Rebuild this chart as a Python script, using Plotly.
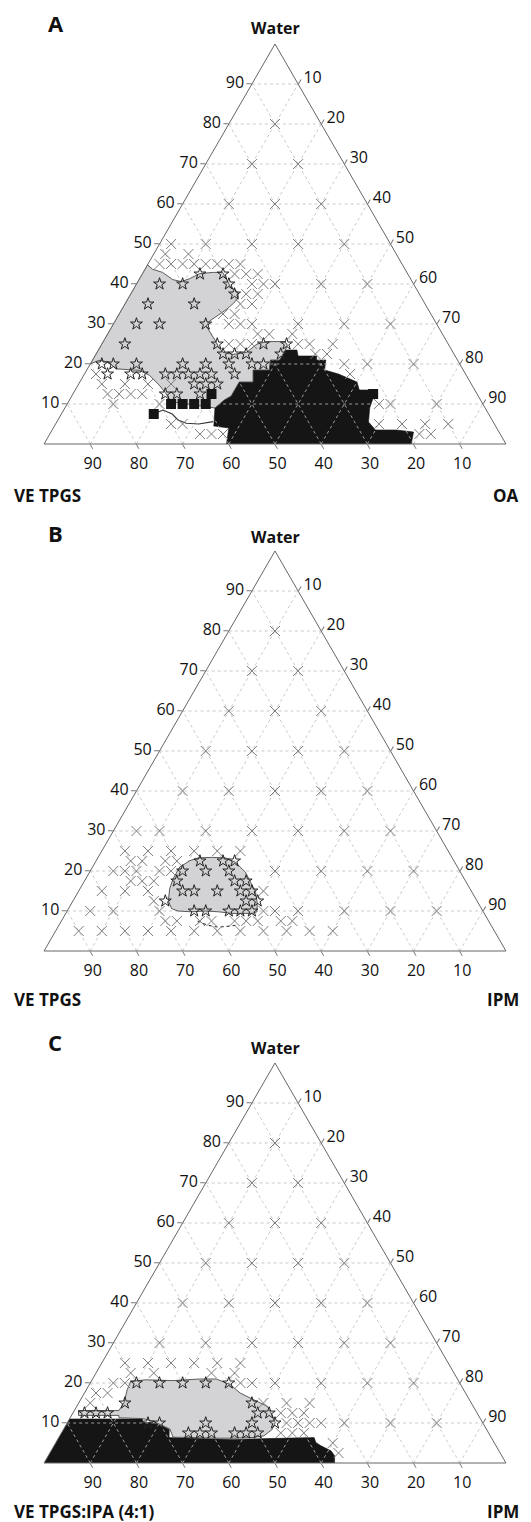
import plotly.graph_objects as go

TICKS = [10, 20, 30, 40, 50, 60, 70, 80, 90]

# Every point is (water %, oil %); surfactant % = 100 - water - oil
# ---------------- Panel A : Water / VE TPGS / OA ----------------
A_cross = [(80, 10), (70, 10), (70, 20), (60, 10), (60, 20), (60, 30),
           (50, 2.5), (50, 10), (50, 20), (50, 30), (50, 40),
           (47.5, 2.5), (47.5, 7.5), (45, 2.5), (45, 5), (45, 7.5), (45, 10), (45, 12.5),
           (45, 15), (45, 17.5), (45, 20), (42.5, 20), (42.5, 22.5), (42.5, 25),
           (40, 25), (40, 27.5), (40, 30), (40, 40), (40, 50),
           (37.5, 25), (37.5, 27.5), (35, 25), (35, 27.5), (32.5, 22.5), (32.5, 25),
           (30, 25), (30, 27.5), (30, 30), (30, 40), (30, 50), (30, 60),
           (27.5, 32.5), (27.5, 35), (27.5, 40), (25, 27.5), (25, 30), (25, 32.5),
           (25, 42.5), (25, 45), (25, 50), (22.5, 47.5), (22.5, 50),
           (20, 55), (20, 60), (20, 70), (17.5, 57.5),
           (10, 67.5), (10, 70), (10, 80), (5, 70), (5, 75), (5, 80), (5, 85),
           (2.5, 80), (2.5, 82.5),
           (17.5, 2.5), (15, 5), (15, 10), (15, 15), (15, 20), (12.5, 7.5), (12.5, 10),
           (12.5, 12.5), (12.5, 15), (10, 10), (10, 20), (5, 25), (5, 27.5),
           (2.5, 32.5), (2.5, 35), (2.5, 37.5)]
A_star = [(42.5, 12.5), (42.5, 17.5), (40, 5), (40, 10), (40, 20), (37.5, 22.5),
          (35, 5), (35, 15), (30, 5), (30, 10), (30, 20), (25, 5), (25, 25),
          (22.5, 27.5), (22.5, 30), (22.5, 32.5), (25, 35), (25, 40), (22.5, 40),
          (20, 2.5), (20, 5), (20, 10), (20, 20), (20, 25), (20, 30), (20, 35), (20, 37.5),
          (17.5, 5), (17.5, 10), (17.5, 12.5), (17.5, 17.5), (17.5, 20), (17.5, 22.5),
          (17.5, 25), (17.5, 27.5), (17.5, 32.5), (15, 25), (15, 27.5), (15, 30),
          (12.5, 20), (12.5, 22.5), (12.5, 27.5)]
A_square = [(7.5, 20), (10, 22.5), (10, 25), (10, 27.5), (10, 30), (12.5, 30), (12.5, 65)]
A_gray = [(44.8, 0), (43.7, 1.6), (42.9, 4.2), (41.1, 7.3), (40.6, 9.4), (41.3, 10.8),
          (42.6, 12.4), (42.9, 15.2), (42.9, 17.2), (41.3, 18.8), (39.4, 20.6), (38, 22.9),
          (36.6, 23.8), (35.1, 23.4), (33.7, 22.7), (32.2, 21.6), (30.8, 20.5), (29.5, 20.4),
          (27.7, 22.2), (26.1, 23.9), (24.4, 25.5), (22.9, 27.3), (22.4, 29.8), (22.9, 32.4),
          (25, 33.6), (25.6, 35.5), (25.6, 39.3), (24.75, 40.3), (23.5, 40.5), (21, 40.5),
          (21, 38.5), (18.5, 39.5), (18.5, 36), (15.5, 37.5), (15.5, 34.5), (12, 34.5),
          (11, 33.5), (10, 33), (9, 32.5), (10.6, 22.2), (12.6, 20.1), (14.7, 17.6),
          (17.2, 14.2), (18.4, 11.4), (18.8, 6.1), (20.5, 3.8), (20.9, 1.4), (20, 0)]
A_black = [(0, 39.5), (4, 38), (4.5, 34.5), (9, 32.5), (10, 33), (11, 33.5), (12, 34.5),
           (15.5, 34.5), (15.5, 37.5), (18.5, 36), (18.5, 39.5), (21, 38.5), (21, 40.5),
           (23.5, 40.5), (23.5, 43), (22, 44), (22, 48), (21, 48.5), (21, 50.5), (18.5, 51.5),
           (17.5, 55), (16.5, 57.5), (15.5, 60), (13.5, 61.5), (13.5, 64.5), (11.5, 65.5),
           (9, 66), (5.5, 67.5), (3.5, 70), (3.5, 74.5), (3, 78.5), (0, 79.5)]
A_line = [(7.5, 20), (8.5, 21.5), (7.5, 24), (6, 26), (5.2, 28.2), (5, 31), (5.6, 33.8)]

# ---------------- Panel B : Water / VE TPGS / IPM ----------------
B_cross = [(80, 10), (70, 10), (70, 20), (60, 10), (60, 20), (60, 30),
           (50, 10), (50, 20), (50, 30), (50, 40), (40, 10), (40, 20), (40, 30), (40, 40), (40, 50),
           (30, 5), (30, 10), (30, 20), (30, 30), (30, 40), (30, 50), (30, 60),
           (25, 5), (25, 10), (25, 15), (25, 20), (25, 25), (25, 30),
           (22.5, 7.5), (22.5, 10), (22.5, 15), (22.5, 17.5),
           (20, 5), (20, 7.5), (20, 10), (20, 15), (20, 17.5), (20, 40), (20, 50), (20, 60), (20, 70),
           (17.5, 10), (17.5, 12.5), (17.5, 15), (15, 5), (15, 10), (15, 15), (15, 40),
           (12.5, 17.5), (10, 5), (10, 10), (10, 20), (10, 42.5), (10, 45), (10, 50), (10, 60),
           (10, 70), (10, 80),
           (7.5, 22.5), (7.5, 25), (7.5, 30), (7.5, 32.5), (7.5, 37.5), (7.5, 40), (7.5, 42.5),
           (7.5, 47.5), (7.5, 50),
           (5, 5), (5, 10), (5, 15), (5, 20), (5, 25), (5, 30), (5, 35), (5, 40), (5, 45),
           (5, 50), (5, 55), (5, 60)]
B_star = [(22.5, 22.5), (22.5, 27.5), (22.5, 30), (20, 20), (20, 25), (20, 30),
          (17.5, 20), (17.5, 32.5), (17.5, 35), (15, 22.5), (15, 25), (15, 30), (15, 35),
          (15, 37.5), (12.5, 20), (12.5, 37.5), (12.5, 40), (10, 27.5), (10, 30), (10, 35),
          (10, 37.5), (10, 40)]
B_gray = [(13.5, 20.25), (15.6, 19.4), (18.1, 18.9), (21, 18.9), (22.6, 20.3), (23.3, 21.75),
          (23.4, 24.6), (23.3, 27.6), (22.2, 30.3), (19.7, 33.75), (17.2, 36.1), (14.8, 38.4),
          (11.9, 40.2), (9.8, 41.2), (9.4, 40.35), (9.4, 36), (9.8, 32.9), (10, 29.9),
          (9.8, 27), (10, 24), (10.6, 22.3), (12.3, 20.85)]
B_line = [(7.5, 29.5), (6.5, 32), (6, 34.5), (6.2, 37), (6.5, 38.5)]

# ---------------- Panel C : Water / VE TPGS:IPA (4:1) / IPM ----------------
C_cross = [(80, 10), (70, 10), (70, 20), (60, 10), (60, 20), (60, 30),
           (50, 10), (50, 20), (50, 30), (50, 40), (40, 10), (40, 20), (40, 30), (40, 40), (40, 50),
           (30, 10), (30, 20), (30, 30), (30, 40), (30, 50), (30, 60),
           (25, 5), (25, 10), (25, 15), (25, 20), (25, 25), (25, 30),
           (22.5, 7.5), (22.5, 12.5), (22.5, 25), (22.5, 30),
           (20, 5), (20, 7.5), (20, 32.5), (20, 35), (20, 40), (20, 50), (20, 60), (20, 70),
           (17.5, 2.5), (17.5, 5), (15, 2.5), (15, 40), (15, 45), (15, 50),
           (12.5, 45), (12.5, 47.5), (12.5, 50),
           (10, 47.5), (10, 50), (10, 52.5), (10, 55), (10, 60), (10, 70), (10, 80),
           (7.5, 47.5), (7.5, 50), (7.5, 52.5), (5, 60), (2.5, 62.5)]
C_star = [(12.5, 2.5), (12.5, 5), (12.5, 7.5), (15, 10), (20, 10), (20, 15), (20, 20),
          (20, 25), (20, 30), (10, 17.5), (10, 20), (10, 30), (7.5, 27.5), (7.5, 30),
          (7.5, 32.5), (7.5, 37.5), (7.5, 40), (7.5, 42.5), (15, 37.5), (12.5, 40),
          (12.5, 42.5), (10, 40), (10, 45)]
C_gray = [(13.1, 0.9), (13.1, 9.65), (15, 9.8), (18.3, 8.85), (20.4, 8.55), (20.8, 11.6),
          (20.6, 17.6), (21, 23.2), (21, 26.8), (19.6, 30.5), (17.5, 33.7), (15.8, 37.5),
          (14.2, 41.2), (12.1, 43.3), (10.1, 45), (8.4, 45.2), (6.8, 44.2), (6.4, 42.2),
          (6.2, 38), (6.2, 33.65), (6.4, 27.6), (6.45, 24.7), (8.5, 23), (10.5, 18.2),
          (11.1, 15.8), (11.3, 10.55), (11.9, 10.25), (11.9, 1.5)]
C_black = [(0, 0), (11, 0), (11, 15.8), (10.2, 16.2), (10.1, 18.4), (9.2, 21.1), (8.4, 22.9),
           (6.35, 23.9), (6.1, 30.65), (5.9, 38), (6.1, 45.2), (6.35, 55.3), (5.1, 56.3),
           (4.3, 57.8), (3.05, 60.6), (1.8, 62), (0, 62.9)]

PANELS = [
    dict(sub="ternary", letter="A", left="VE TPGS", right="OA", cross=A_cross, star=A_star,
         square=A_square, gray=A_gray, black=A_black, line=A_line, line_dash="solid",
         ypx=(44, 444), letter_y=23, water_y=28, label_y=495),
    dict(sub="ternary2", letter="B", left="VE TPGS", right="IPM", cross=B_cross, star=B_star,
         square=[], gray=B_gray, black=[], line=B_line, line_dash="dot",
         ypx=(551, 951), letter_y=533, water_y=537, label_y=1000),
    dict(sub="ternary3", letter="C", left="VE TPGS:IPA (4:1)", right="IPM", cross=C_cross,
         star=C_star, square=[], gray=C_gray, black=C_black, line=[], line_dash="solid",
         ypx=(1063, 1463), letter_y=1042, water_y=1048, label_y=1511),
]

W, H = 531, 1522
OFF = 8          # the page body adds an 8 px margin; positions below are page pixels
X0, X1 = 44, 506


def px(x):
    return (x - OFF) / W


def py(y):
    return 1 - (y - OFF) / H


def abc(points, close=False):
    pts = list(points) + ([points[0]] if close and points else [])
    a = [p[0] for p in pts]
    c = [p[1] for p in pts]
    b = [100 - p[0] - p[1] for p in pts]
    return a, b, c


fig = go.Figure()
annotations = []
layout_ternaries = {}
FONT = "Open Sans"

for P in PANELS:
    sub = P["sub"]
    if P["black"]:
        a, b, c = abc(P["black"], close=True)
        fig.add_trace(go.Scatterternary(a=a, b=b, c=c, mode="lines", fill="toself",
                                        fillcolor="#151515", line=dict(color="#151515", width=0.6),
                                        subplot=sub, showlegend=False, hoverinfo="skip"))
    # dashed grid drawn over the black region (hidden again by the gray region)
    for t in TICKS:
        for seg in ([(t, 0), (t, 100 - t)],
                    [(0, t), (100 - t, t)],
                    [(0, 100 - t), (100 - t, 0)]):
            a, b, c = abc(seg)
            fig.add_trace(go.Scatterternary(a=a, b=b, c=c, mode="lines",
                                            line=dict(color="#bdbdbd", width=0.8, dash="3px,3px"),
                                            subplot=sub, showlegend=False, hoverinfo="skip"))
    a, b, c = abc(P["gray"], close=True)
    fig.add_trace(go.Scatterternary(a=a, b=b, c=c, mode="lines", fill="toself",
                                    fillcolor="#d3d3d5", line=dict(color="#4a4a4a", width=0.9),
                                    subplot=sub, showlegend=False, hoverinfo="skip"))
    if P["line"]:
        a, b, c = abc(P["line"])
        fig.add_trace(go.Scatterternary(a=a, b=b, c=c, mode="lines",
                                        line=dict(color="#333", width=1.1, dash=P["line_dash"]),
                                        subplot=sub, showlegend=False, hoverinfo="skip"))
    a, b, c = abc(P["cross"])
    fig.add_trace(go.Scatterternary(a=a, b=b, c=c, mode="markers",
                                    marker=dict(symbol="x-thin", size=10,
                                                line=dict(width=1, color="#7d7d7d")),
                                    subplot=sub, showlegend=False))
    if P["square"]:
        a, b, c = abc(P["square"])
        fig.add_trace(go.Scatterternary(a=a, b=b, c=c, mode="markers",
                                        marker=dict(symbol="square", size=10, color="#151515"),
                                        subplot=sub, showlegend=False))
    a, b, c = abc(P["star"])
    fig.add_trace(go.Scatterternary(a=a, b=b, c=c, mode="markers",
                                    marker=dict(symbol="star-open", size=9, color="#222",
                                                line=dict(width=1, color="#222")),
                                    subplot=sub, showlegend=False))

    ax = dict(tickmode="array", tickvals=TICKS, ticktext=[str(t) for t in TICKS],
              ticks="outside", ticklen=5, tickcolor="#777", linecolor="#666", linewidth=1,
              showgrid=False, min=0, title=dict(text=""),
              tickfont=dict(size=16, color="#111", family=FONT))
    y0p, y1p = P["ypx"]
    layout_ternaries[sub] = dict(sum=100, bgcolor="white",
                                 domain=dict(x=[px(X0), px(X1)], y=[py(y1p), py(y0p)]),
                                 aaxis=ax, baxis=ax, caxis=ax)

    annotations += [
        dict(text="<b>%s</b>" % P["letter"], x=px(46), y=py(P["letter_y"]), xanchor="left",
             yanchor="middle", font=dict(size=22, color="#111", family=FONT)),
        dict(text="<b>Water</b>", x=px(275), y=py(P["water_y"]), xanchor="center",
             yanchor="middle", font=dict(size=16, color="#111", family=FONT)),
        dict(text="<b>%s</b>" % P["left"], x=px(12), y=py(P["label_y"]), xanchor="left",
             yanchor="middle", font=dict(size=17, color="#111", family=FONT)),
        dict(text="<b>%s</b>" % P["right"], x=px(521), y=py(P["label_y"]), xanchor="right",
             yanchor="middle", font=dict(size=17, color="#111", family=FONT)),
    ]

for ann in annotations:
    ann.update(xref="paper", yref="paper", showarrow=False)

fig.update_layout(width=W, height=H, margin=dict(l=0, r=0, t=0, b=0),
                  paper_bgcolor="white", plot_bgcolor="white",
                  annotations=annotations, showlegend=False, **layout_ternaries)

fig.write_html("out.html")
